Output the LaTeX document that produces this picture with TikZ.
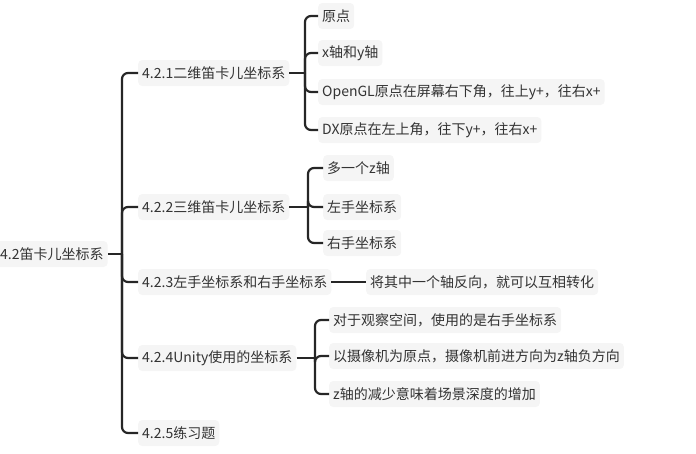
\documentclass[tikz,border=0pt]{standalone}
\usepackage{fontspec}
\setmainfont{Noto Sans CJK SC}
\begin{document}
\begin{tikzpicture}[x=1pt,y=-1pt,
  topic/.style={anchor=west, fill=black!4, rounded corners=4pt, text=black!80, inner xsep=4pt, minimum height=26pt, font=\fontsize{14}{16}\selectfont},
  link/.style={line width=2.2pt, draw=black!85, rounded corners=6pt}]
\useasboundingbox (0,0) rectangle (696,453);

\node [topic] (root) at (-4,254) {4.2笛卡儿坐标系};

\node [topic] (twod) at (138,73) {4.2.1二维笛卡儿坐标系};
\node [topic] (threed) at (138,207) {4.2.2三维笛卡儿坐标系};
\node [topic] (hand) at (138,282) {4.2.3左手坐标系和右手坐标系};
\node [topic] (unity) at (138,358) {4.2.4Unity使用的坐标系};
\node [topic] (practice) at (138,433) {4.2.5练习题};

\coordinate (rootfork) at (122,254);
\draw[link] (root.east) -- (rootfork);
\foreach \sub in {twod,threed,hand,unity,practice}
  \draw[link] (rootfork) |- (\sub.west);

% 4.2.1
\node [topic] (origin) at (318,16) {原点};
\node [topic] (xyaxis) at (318,53) {x轴和y轴};
\node [topic] (opengl) at (318,92) {OpenGL原点在屏幕右下角，往上y+，往右x+};
\node [topic] (dx) at (318,130) {DX原点在左上角，往下y+，往右x+};
\coordinate (twodfork) at (305,73);
\draw[link] (twod.east) -- (twodfork);
\foreach \sub in {origin,xyaxis,opengl,dx}
  \draw[link] (twodfork) |- (\sub.west);

% 4.2.2
\node [topic] (zaxis) at (323,168) {多一个z轴};
\node [topic] (lefthand) at (323,207) {左手坐标系};
\node [topic] (righthand) at (323,243) {右手坐标系};
\coordinate (threedfork) at (308,207);
\draw[link] (threed.east) -- (threedfork);
\foreach \sub in {zaxis,lefthand,righthand}
  \draw[link] (threedfork) |- (\sub.west);

% 4.2.3
\node [topic] (flip) at (366,282) {将其中一个轴反向，就可以互相转化};
\draw[link] (hand.east) -- (flip.west);

% 4.2.4
\node [topic] (viewspace) at (329,320) {对于观察空间，使用的是右手坐标系};
\node [topic] (camera) at (329,356) {以摄像机为原点，摄像机前进方向为z轴负方向};
\node [topic] (depth) at (329,394) {z轴的减少意味着场景深度的增加};
\coordinate (unityfork) at (315,358);
\draw[link] (unity.east) -- (unityfork);
\foreach \sub in {viewspace,camera,depth}
  \draw[link] (unityfork) |- (\sub.west);

\end{tikzpicture}
\end{document}
